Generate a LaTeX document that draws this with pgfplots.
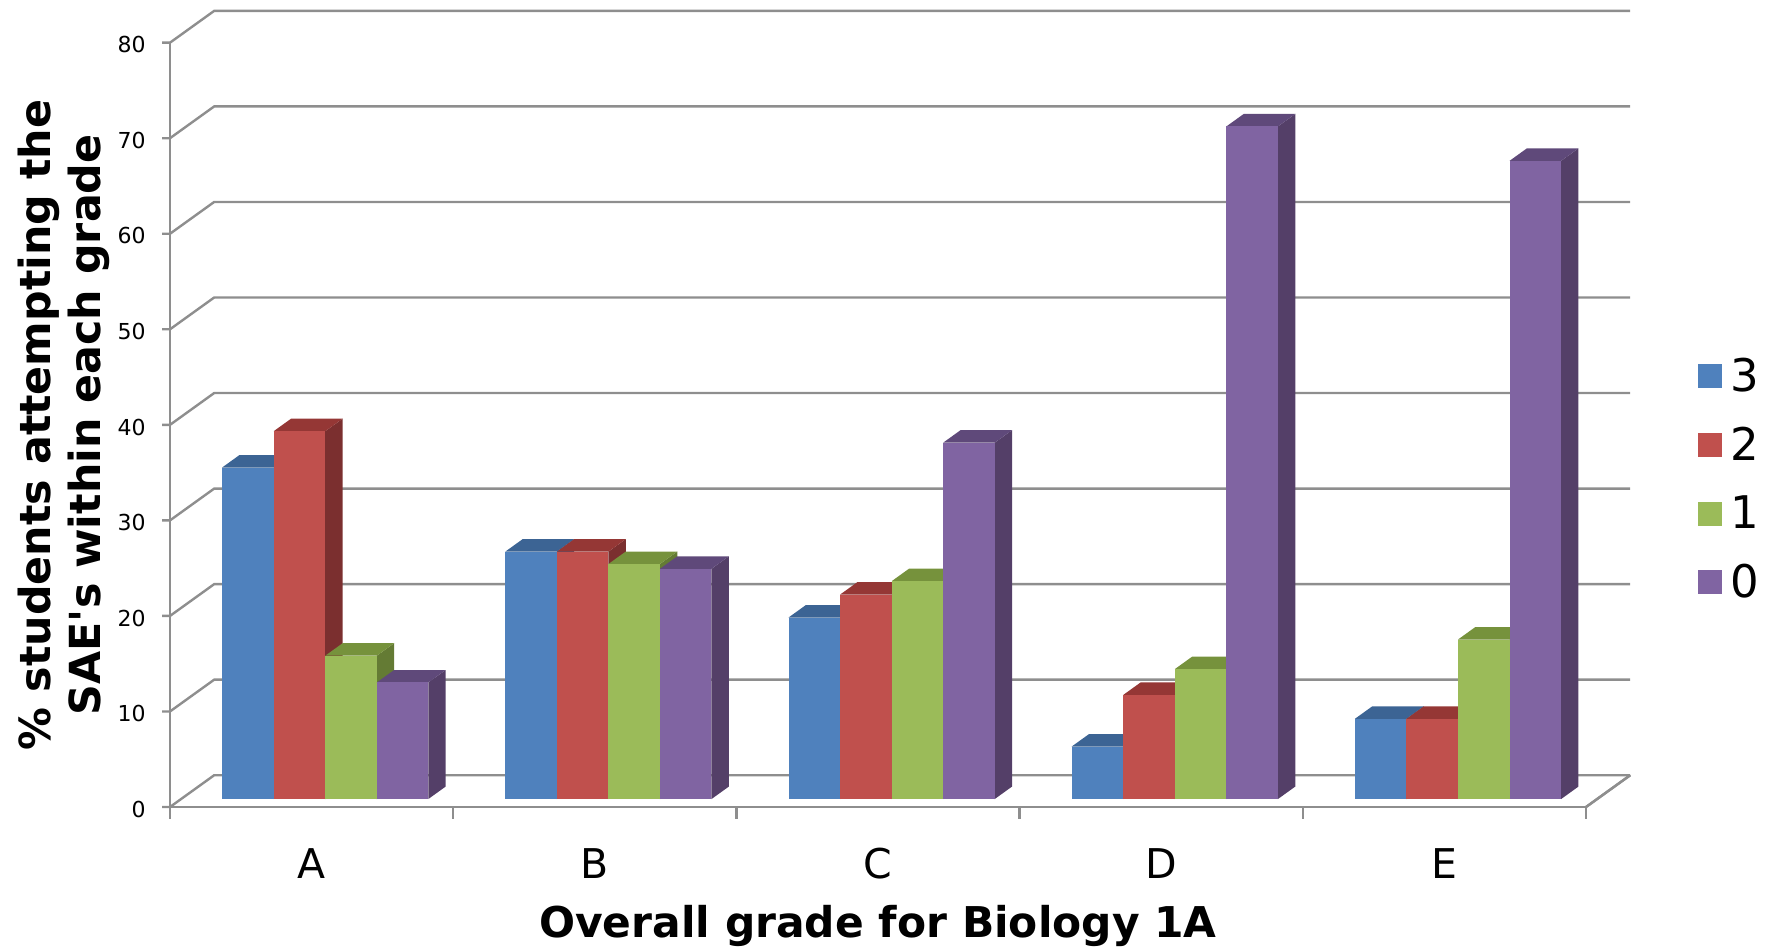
\documentclass[border=0pt]{standalone}
\usepackage{pgfplots}
\pgfplotsset{compat=1.18}
\usepackage{fontspec}
\setmainfont{DejaVu Sans}

\definecolor{blueF}{HTML}{4F81BD}\definecolor{blueT}{HTML}{3C6494}\definecolor{blueS}{HTML}{385D8A}
\definecolor{redF}{HTML}{C0504D}\definecolor{redT}{HTML}{953735}\definecolor{redS}{HTML}{7B2F2F}
\definecolor{greenF}{HTML}{9BBB59}\definecolor{greenT}{HTML}{76923C}\definecolor{greenS}{HTML}{647B34}
\definecolor{purpleF}{HTML}{8064A2}\definecolor{purpleT}{HTML}{5F497A}\definecolor{purpleS}{HTML}{543F68}
\definecolor{gridc}{HTML}{8E8E8E}

% one 3d bar: left x, right x, value, colour prefix
\newcommand{\barthree}[4]{%
  \addplot3[fill=#4S,draw=none,forget plot] coordinates {(#2,0.25,0) (#2,0.643,0) (#2,0.643,#3) (#2,0.25,#3)} -- cycle;
  \addplot3[fill=#4T,draw=none,forget plot] coordinates {(#1,0.25,#3) (#2,0.25,#3) (#2,0.643,#3) (#1,0.643,#3)} -- cycle;
  \addplot3[fill=#4F,draw=none,forget plot] coordinates {(#1,0.25,0) (#2,0.25,0) (#2,0.25,#3) (#1,0.25,#3)} -- cycle;
}

\begin{document}
\begin{tikzpicture}
\path[use as bounding box] (0,0) rectangle (887.5pt,474.5pt);
\begin{axis}[
    at={(85pt,71pt)}, anchor=origin,
    x={(141.6pt,0pt)}, y={(22.1pt,15.9pt)}, z={(0pt,4.777pt)},
    xmin=0, xmax=5, ymin=0, ymax=1, zmin=0, zmax=80,
    axis lines=left,
    axis line style={gridc,line width=1.2pt,-},
    clip=false,
    xtick={0.5,1.5,2.5,3.5,4.5},
    xticklabels={A,B,C,D,E},
    ytick=\empty,
    ztick={0,10,...,80},
    major tick length=0pt,
    tick style={draw=none},
    /pgf/number format/assume math mode=true,
    x tick label style={font=\fontsize{20.5}{24}\selectfont,anchor=base,yshift=-35.8pt},
    z tick label style={font=\fontsize{11}{14}\selectfont,anchor=east,xshift=-8.6pt,yshift=-1.1pt},
    xlabel={\bfseries Overall grade for Biology 1A},
    zlabel={\bfseries\begin{tabular}{c}\% students attempting the\\SAE\textquotesingle s within each grade\end{tabular}},
    every axis x label/.style={at={(axis cs:2.5,0,-12.4)},anchor=center,font=\fontsize{21.2}{25}\selectfont},
    every axis z label/.style={at={(axis cs:-0.37,0,40)},anchor=center,rotate=90,font=\fontsize{21.4}{25}\selectfont},
    legend style={at={(axis cs:5.372,0,34.3)},anchor=west,draw=none,fill=none,
      font=\fontsize{22.5}{25}\selectfont,row sep=14.2pt,
      nodes={inner xsep=4.5pt,inner ysep=1pt}},
    legend cell align=left,
    legend image code/.code={\path[#1,draw=none] (0pt,-6pt) rectangle (12pt,6pt);},
]
\addlegendimage{fill=blueF}\addlegendentry{3}
\addlegendimage{fill=redF}\addlegendentry{2}
\addlegendimage{fill=greenF}\addlegendentry{1}
\addlegendimage{fill=purpleF}\addlegendentry{0}

% walls and value ticks
\pgfplotsinvokeforeach{0,10,...,80}{
  \addplot3[gridc,line width=1.2pt,forget plot] coordinates {(-0.028,0,#1) (0,0,#1) (0,1,#1) (5,1,#1)};
}
\addplot3[gridc,line width=1.2pt,forget plot] coordinates {(5,0,0) (5,1,0)};
% category ticks
\pgfplotsinvokeforeach{0,1,...,5}{
  \addplot3[gridc,line width=1.2pt,forget plot] coordinates {(#1,0,0) (#1,0,-1.25)};
}

% A
\barthree{0.145}{0.327}{34.7}{blue}
\barthree{0.327}{0.509}{38.5}{red}
\barthree{0.509}{0.691}{15.0}{green}
\barthree{0.691}{0.873}{12.2}{purple}
% B
\barthree{1.145}{1.327}{25.9}{blue}
\barthree{1.327}{1.509}{25.9}{red}
\barthree{1.509}{1.691}{24.6}{green}
\barthree{1.691}{1.873}{24.1}{purple}
% C
\barthree{2.145}{2.327}{19.0}{blue}
\barthree{2.327}{2.509}{21.4}{red}
\barthree{2.509}{2.691}{22.8}{green}
\barthree{2.691}{2.873}{37.3}{purple}
% D
\barthree{3.145}{3.327}{5.5}{blue}
\barthree{3.327}{3.509}{10.9}{red}
\barthree{3.509}{3.691}{13.6}{green}
\barthree{3.691}{3.873}{70.4}{purple}
% E
\barthree{4.145}{4.327}{8.4}{blue}
\barthree{4.327}{4.509}{8.4}{red}
\barthree{4.509}{4.691}{16.7}{green}
\barthree{4.691}{4.873}{66.8}{purple}
\end{axis}
\end{tikzpicture}
\end{document}
